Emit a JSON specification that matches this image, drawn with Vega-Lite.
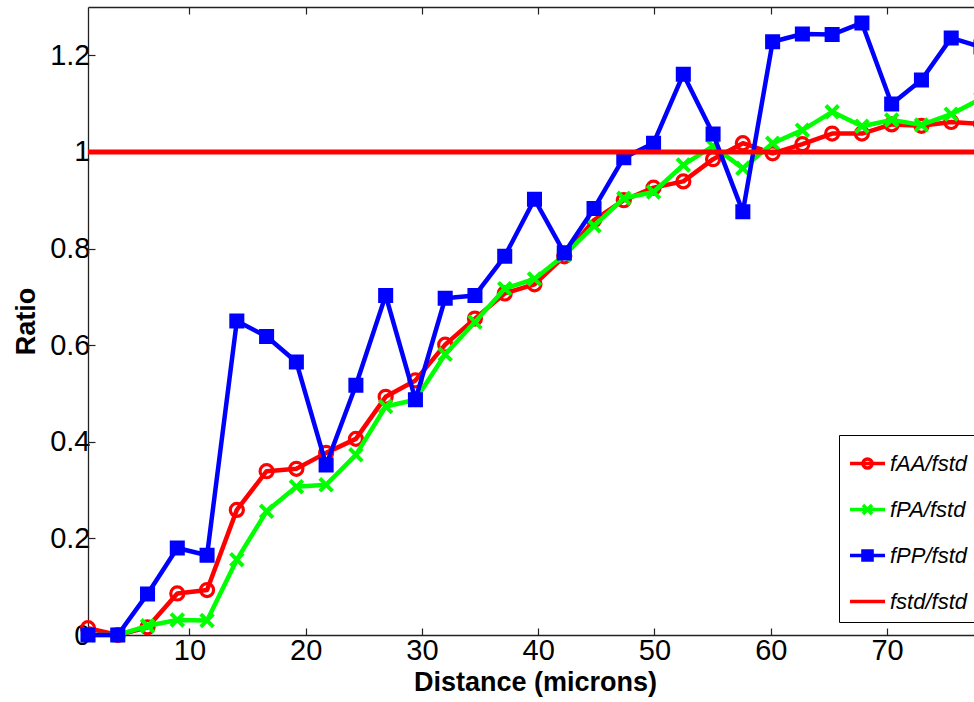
{
  "$schema": "https://vega.github.io/schema/vega-lite/v6.json",
  "width": 886,
  "height": 628,
  "autosize": {"type": "none"},
  "padding": {"left": 88, "top": 7, "right": 0, "bottom": 67},
  "background": "white",
  "config": {
    "view": {"stroke": null},
    "font": "Liberation Sans",
    "axis": {
      "domainColor": "#222222",
      "tickColor": "#222222",
      "labelColor": "#000000",
      "titleColor": "#000000",
      "labelFont": "Liberation Sans",
      "titleFont": "Liberation Sans",
      "labelFontSize": 29,
      "titleFontSize": 27,
      "titleFontWeight": "bold",
      "grid": false,
      "domainWidth": 1.3,
      "tickWidth": 1.2
    }
  },
  "data": {
    "values": [
      {"d": 1.28, "AA": 0.014, "PA": 0.0, "PP": 0.0, "std": 1},
      {"d": 3.84, "AA": 0.0, "PA": 0.0, "PP": 0.0, "std": 1},
      {"d": 6.40, "AA": 0.016, "PA": 0.019, "PP": 0.085, "std": 1},
      {"d": 8.96, "AA": 0.086, "PA": 0.031, "PP": 0.18, "std": 1},
      {"d": 11.52, "AA": 0.093, "PA": 0.030, "PP": 0.165, "std": 1},
      {"d": 14.08, "AA": 0.259, "PA": 0.156, "PP": 0.65, "std": 1},
      {"d": 16.64, "AA": 0.339, "PA": 0.256, "PP": 0.618, "std": 1},
      {"d": 19.20, "AA": 0.344, "PA": 0.307, "PP": 0.565, "std": 1},
      {"d": 21.76, "AA": 0.377, "PA": 0.311, "PP": 0.352, "std": 1},
      {"d": 24.32, "AA": 0.406, "PA": 0.373, "PP": 0.517, "std": 1},
      {"d": 26.88, "AA": 0.493, "PA": 0.473, "PP": 0.703, "std": 1},
      {"d": 29.44, "AA": 0.527, "PA": 0.487, "PP": 0.487, "std": 1},
      {"d": 32.00, "AA": 0.601, "PA": 0.581, "PP": 0.697, "std": 1},
      {"d": 34.56, "AA": 0.655, "PA": 0.648, "PP": 0.703, "std": 1},
      {"d": 37.12, "AA": 0.707, "PA": 0.717, "PP": 0.784, "std": 1},
      {"d": 39.68, "AA": 0.726, "PA": 0.737, "PP": 0.902, "std": 1},
      {"d": 42.24, "AA": 0.784, "PA": 0.786, "PP": 0.791, "std": 1},
      {"d": 44.80, "AA": 0.859, "PA": 0.847, "PP": 0.883, "std": 1},
      {"d": 47.36, "AA": 0.900, "PA": 0.904, "PP": 0.988, "std": 1},
      {"d": 49.92, "AA": 0.926, "PA": 0.917, "PP": 1.018, "std": 1},
      {"d": 52.48, "AA": 0.939, "PA": 0.973, "PP": 1.161, "std": 1},
      {"d": 55.04, "AA": 0.985, "PA": 1.012, "PP": 1.037, "std": 1},
      {"d": 57.60, "AA": 1.018, "PA": 0.966, "PP": 0.876, "std": 1},
      {"d": 60.16, "AA": 0.997, "PA": 1.018, "PP": 1.228, "std": 1},
      {"d": 62.72, "AA": 1.016, "PA": 1.045, "PP": 1.244, "std": 1},
      {"d": 65.28, "AA": 1.038, "PA": 1.083, "PP": 1.243, "std": 1},
      {"d": 67.84, "AA": 1.038, "PA": 1.053, "PP": 1.267, "std": 1},
      {"d": 70.40, "AA": 1.057, "PA": 1.066, "PP": 1.099, "std": 1},
      {"d": 72.96, "AA": 1.054, "PA": 1.056, "PP": 1.149, "std": 1},
      {"d": 75.52, "AA": 1.062, "PA": 1.078, "PP": 1.236, "std": 1},
      {"d": 78.08, "AA": 1.058, "PA": 1.11, "PP": 1.217, "std": 1}
    ]
  },
  "transform": [{"fold": ["AA", "PA", "PP", "std"], "as": ["series", "ratio"]}],
  "layer": [
    {
      "layer": [
        {
          "transform": [{"filter": "datum.series == 'AA'"}],
          "mark": {"type": "line", "strokeWidth": 4.5, "strokeJoin": "round", "color": "#ff0000"},
          "encoding": {
            "x": {"field": "d", "type": "quantitative", "scale": {"domain": [1.28, 77.48], "nice": false, "zero": false},
              "axis": {"orient": "bottom", "values": [10, 20, 30, 40, 50, 60, 70], "tickSize": -7, "labelPadding": 8, "labelFontSize": 29, "title": "Distance (microns)", "titleFontSize": 27, "titlePadding": 4, "titleX": 447}},
            "y": {"field": "ratio", "type": "quantitative", "scale": {"domain": [0, 1.3], "nice": false},
              "axis": {"orient": "left", "values": [0, 0.2, 0.4, 0.6, 0.8, 1, 1.2], "format": "~g", "tickSize": -7, "labelPadding": 5, "labelFontSize": 29, "title": "Ratio", "titleFontSize": 27, "titlePadding": 9}},
            "order": {"field": "d", "type": "quantitative"}
          }
        },
        {
          "transform": [{"filter": "datum.series == 'AA'"}],
          "mark": {"type": "point", "shape": "circle", "filled": false, "color": "#ff0000", "strokeWidth": 3.2, "size": 170, "opacity": 1},
          "encoding": {
            "x": {"field": "d", "type": "quantitative"},
            "y": {"field": "ratio", "type": "quantitative"}
          }
        },
        {
          "transform": [{"filter": "datum.series == 'PA'"}],
          "mark": {"type": "line", "strokeWidth": 4.5, "strokeJoin": "round", "color": "#00ff00"},
          "encoding": {
            "x": {"field": "d", "type": "quantitative"},
            "y": {"field": "ratio", "type": "quantitative"},
            "order": {"field": "d", "type": "quantitative"}
          }
        },
        {
          "transform": [{"filter": "datum.series == 'PA'"}],
          "mark": {"type": "point", "shape": "M-1,-1L1,1M-1,1L1,-1", "filled": false, "color": "#00ff00", "strokeWidth": 4, "size": 160, "opacity": 1},
          "encoding": {
            "x": {"field": "d", "type": "quantitative"},
            "y": {"field": "ratio", "type": "quantitative"}
          }
        },
        {
          "transform": [{"filter": "datum.series == 'PP'"}],
          "mark": {"type": "line", "strokeWidth": 4.5, "strokeJoin": "round", "color": "#0000ff"},
          "encoding": {
            "x": {"field": "d", "type": "quantitative"},
            "y": {"field": "ratio", "type": "quantitative"},
            "order": {"field": "d", "type": "quantitative"}
          }
        },
        {
          "transform": [{"filter": "datum.series == 'PP'"}],
          "mark": {"type": "point", "shape": "square", "filled": true, "color": "#0000ff", "stroke": "#0000ff", "strokeWidth": 2, "size": 170, "opacity": 1},
          "encoding": {
            "x": {"field": "d", "type": "quantitative"},
            "y": {"field": "ratio", "type": "quantitative"}
          }
        },
        {
          "transform": [{"filter": "datum.series == 'std'"}],
          "mark": {"type": "line", "strokeWidth": 5, "color": "#ff0000"},
          "encoding": {
            "x": {"field": "d", "type": "quantitative"},
            "y": {"field": "ratio", "type": "quantitative"},
            "order": {"field": "d", "type": "quantitative"}
          }
        }
      ]
    },
    {
      "mark": {"type": "point", "filled": false, "opacity": 0, "strokeWidth": 3.5},
      "encoding": {
        "x": {"field": "d", "type": "quantitative",
          "axis": {"orient": "top", "values": [10, 20, 30, 40, 50, 60, 70], "tickSize": -7, "labels": false, "title": null}},
        "y": {"field": "ratio", "type": "quantitative"},
        "color": {"field": "series", "type": "nominal", "scale": {"domain": ["AA", "PA", "PP", "std"], "range": ["#ff0000", "#00ff00", "#0000ff", "#ff0000"]},
          "legend": {"orient": "none", "legendX": 751, "legendY": 428, "title": null, "symbolSize": 1225, "symbolStrokeWidth": 3.5, "symbolOpacity": 1, "labelFontSize": 22, "labelFontStyle": "italic", "labelFont": "Liberation Sans", "labelColor": "#000000", "labelOffset": 3, "padding": 9, "rowPadding": 14, "strokeColor": "#000000", "fillColor": "#ffffff", "labelLimit": 300, "labelExpr": "'f' + datum.value + '/fstd'"}},
        "shape": {"field": "series", "type": "nominal", "scale": {"domain": ["AA", "PA", "PP", "std"], "range": [
          "M-1,0L1,0M-0.26,0A0.26,0.26,0,1,1,0.26,0A0.26,0.26,0,1,1,-0.26,0",
          "M-1,0L1,0M-0.26,-0.26L0.26,0.26M-0.26,0.26L0.26,-0.26",
          "M-1,0L1,0M-0.26,-0.26L0.26,-0.26L0.26,0.26L-0.26,0.26ZM-0.12,-0.12L0.12,-0.12L0.12,0.12L-0.12,0.12Z",
          "M-1,0L1,0"]},
          "legend": {"orient": "none", "legendX": 751, "legendY": 428, "title": null, "symbolSize": 1225, "symbolStrokeWidth": 3.5, "symbolOpacity": 1, "labelFontSize": 22, "labelFontStyle": "italic", "labelFont": "Liberation Sans", "labelColor": "#000000", "labelOffset": 3, "padding": 9, "rowPadding": 14, "strokeColor": "#000000", "fillColor": "#ffffff", "labelLimit": 300, "labelExpr": "'f' + datum.value + '/fstd'"}}
      }
    }
  ],
  "resolve": {"axis": {"x": "independent"}}
}
